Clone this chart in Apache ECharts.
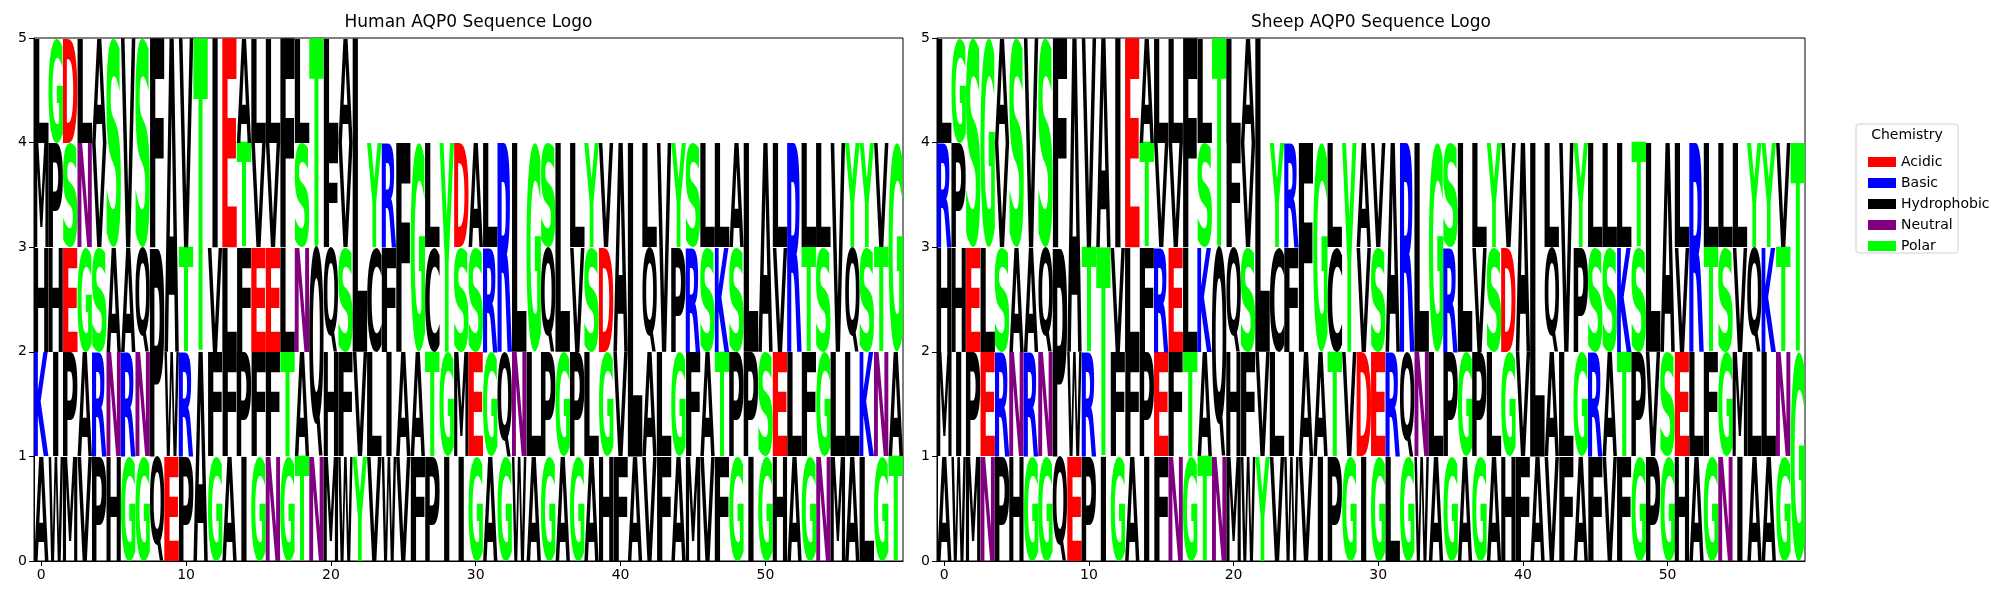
<!DOCTYPE html>
<html>
<head>
<meta charset="utf-8">
<script src="https://cdn.jsdelivr.net/npm/echarts@6/dist/echarts.min.js"></script>
<style>
html, body { margin: 0; padding: 0; background: #fff; }
#main { width: 2000px; height: 600px; }
</style>
</head>
<body>
<div id="main"></div>
<script>
// one string per position, letters bottom -> top, a digit after a letter = its height
const humanStacks = [
  'AKHML', 'WIHPG', 'MPESD', 'VAGNL', 'PRSVA', 'HNAS2', 'GRAV2', 'GNQS2', 'QP2F2', 'EWA3',
  'PRTV2', 'A2T3', 'GFVI2', 'AFLE2', 'IPFTA', 'GFEVL', 'NFEVL', 'GTLF2', 'TANSL', 'NQ2T2',
  'MHQFL', 'WFSVA', 'YVL3', 'VLCY', 'WIFR', 'VAF2', 'FAG2', 'PTCL', 'IGY2', 'IMSD',
  'GESA', 'AGRL', 'GQR2', 'WNL2', 'ALG2', 'GPQS', 'AGL2', 'GPVL', 'ALSY', 'HGDV',
  'FVA2', 'AL3', 'VAQL', 'FLV2', 'AGPY', 'MFRS', 'VASL', 'FTKL', 'GPSA', 'IPL2',
  'GSA2', 'HEVL', 'ALR2', 'GFTL', 'NGSL', 'MLV2', 'ALQY', 'LKSY', 'GNTV', 'TAG2'
]
const sheepStacks = [
  'AMHRL', 'WIHPG', 'MPES2', 'NELG2', 'PRSVA', 'HNAS2', 'GRAV2', 'GNQS2', 'QP2F2', 'EWA3',
  'PRTV2', 'IT2A2', 'GFVI2', 'AFLE2', 'IPFTA', 'FERVL', 'NFEVL', 'GTLF2', 'TAKSL', 'NQ2T2',
  'MHQFL', 'WFSVA', 'YVL3', 'VLCY', 'WIFR', 'VAF2', 'IAG2', 'PTCL', 'GVY2', 'IDVA',
  'GESV', 'LRA2', 'GQR2', 'WNL2', 'ALG2', 'GPRS', 'AGL2', 'GPVL', 'ALSY', 'HGDV',
  'FVA2', 'AL3', 'VAQL', 'FLV2', 'AGPY', 'FRSL', 'VASL', 'FTKL', 'GPST', 'PVL2',
  'GSA2', 'HEVL', 'ALR2', 'GFTL', 'NGSL', 'IMVL', 'ALQY', 'ALKY', 'GNTV', 'G2T2'
]
const panelTitles = ['Human AQP0 Sequence Logo', 'Sheep AQP0 Sequence Logo']
const xTicks = [0, 10, 20, 30, 40, 50]
const yTicks = [0, 1, 2, 3, 4, 5]

// chemistry colour scheme
const chemNames = ['Acidic', 'Basic', 'Hydrophobic', 'Neutral', 'Polar']
const chemColors = ['#ff0000', '#0000ff', '#000000', '#800080', '#00ff00']
const chemLetters = ['DE', 'KR', 'AVLIPFWMHCQ', 'N', 'GSTY']

const FONT_FAMILY = 'DejaVu Sans'
const glyphWidth = 1.0

function colorOf(ch) {
    for (let i = 0; i < chemLetters.length; i++) {
        if (chemLetters[i].indexOf(ch) >= 0) return chemColors[i]
    }
    return '#000'
}

// turn 'QP2F2' into [{ch, y0, y1}, ...]
function buildLetters(stacks) {
    const out = []
    stacks.forEach((s, pos) => {
        let floor = 0
        for (let i = 0; i < s.length; i++) {
            const ch = s[i]
            let h = 1
            if (i + 1 < s.length && /[0-9]/.test(s[i + 1])) {
                h = +s[i + 1]
                i++
            }
            out.push({ pos: pos, ch: ch, y0: floor, y1: floor + h })
            floor += h
        }
    })
    return out
}

// ink box of a glyph, measured with the same font the chart draws with
const measureCtx = document.createElement('canvas').getContext('2d')
measureCtx.font = 'bold 200px ' + FONT_FAMILY
measureCtx.textAlign = 'center'
measureCtx.textBaseline = 'middle'
const inkCache = {}
function inkBox(ch) {
    if (!inkCache[ch]) {
        const m = measureCtx.measureText(ch)
        inkCache[ch] = {
            left: -m.actualBoundingBoxLeft,
            right: m.actualBoundingBoxRight,
            top: -m.actualBoundingBoxAscent,
            bottom: m.actualBoundingBoxDescent
        }
    }
    return inkCache[ch]
}

function letterRenderer(letters) {
    return function (params, api) {
        const it = letters[params.dataIndex]
        const x = api.value(0)
        const tl = api.coord([x - glyphWidth / 2, api.value(2)])
        const br = api.coord([x + glyphWidth / 2, api.value(1)])
        const w = br[0] - tl[0]
        const h = br[1] - tl[1]
        const b = inkBox(it.ch)
        const e = inkBox('E')
        // narrow glyphs are not stretched more than 'E'
        const sx = Math.min(w / (b.right - b.left), w / (e.right - e.left))
        const sy = h / (b.bottom - b.top)
        const left = tl[0] + (w - sx * (b.right - b.left)) / 2
        return {
            type: 'text',
            x: left - sx * b.left,
            y: tl[1] - sy * b.top,
            scaleX: sx,
            scaleY: sy,
            silent: true,
            style: {
                text: it.ch,
                x: 0,
                y: 0,
                fill: colorOf(it.ch),
                fontSize: 200,
                fontWeight: 'bold',
                fontFamily: FONT_FAMILY,
                align: 'center',
                verticalAlign: 'middle'
            }
        }
    }
}

const panels = [humanStacks, sheepStacks].map(buildLetters)
const gridLefts = [34, 937]
const gridWidths = [869, 868]

const chart = echarts.init(document.getElementById('main'), null, { renderer: 'canvas' })

const axisText = { fontSize: 14, color: '#000', fontFamily: FONT_FAMILY }

let option = {
    animation: false,
    backgroundColor: '#fff',
    title: panelTitles.map((t, k) => ({
        text: t,
        left: gridLefts[k] + gridWidths[k] / 2,
        top: 14,
        padding: 0,
        textAlign: 'center',
        textStyle: { fontSize: 17, fontWeight: 'normal', color: '#000', fontFamily: FONT_FAMILY }
    })),
    grid: gridLefts.map((l, k) => ({
        left: l,
        top: 38,
        width: gridWidths[k],
        height: 523,
        show: true,
        borderColor: '#000',
        borderWidth: 1,
        backgroundColor: 'transparent',
        containLabel: false
    })),
    xAxis: [0, 1].map(k => ({
        gridIndex: k,
        type: 'value',
        min: -0.5,
        max: 59.5,
        axisLine: { show: true, onZero: false, lineStyle: { color: '#000', width: 1 } },
        axisTick: { show: true, customValues: xTicks, length: 5, lineStyle: { color: '#000' } },
        axisLabel: Object.assign({ customValues: xTicks, margin: 7 }, axisText),
        splitLine: { show: false }
    })),
    yAxis: [0, 1].map(k => ({
        gridIndex: k,
        type: 'value',
        min: 0,
        max: 5,
        interval: 1,
        axisLine: { show: true, onZero: false, lineStyle: { color: '#000', width: 1 } },
        axisTick: { show: true, customValues: yTicks, length: 5, lineStyle: { color: '#000' } },
        axisLabel: Object.assign({ customValues: yTicks, margin: 7 }, axisText),
        splitLine: { show: false }
    })),
    legend: {
        data: chemNames,
        orient: 'vertical',
        left: 1863,
        top: 150,
        icon: 'rect',
        itemWidth: 28,
        itemHeight: 10,
        itemGap: 7,
        selectedMode: false,
        textStyle: { fontSize: 14, color: '#000', fontFamily: FONT_FAMILY }
    },
    graphic: [
        {
            type: 'rect',
            z: -1,
            shape: { x: 1856, y: 124, width: 102, height: 129, r: 3 },
            style: { fill: '#fff', stroke: '#d0d0d0', lineWidth: 1 }
        },
        {
            type: 'text',
            style: {
                x: 1907, y: 135, text: 'Chemistry', align: 'center', verticalAlign: 'middle',
                fontSize: 14, fill: '#000', fontFamily: FONT_FAMILY
            }
        }
    ],
    series: panels.map((letters, k) => ({
        type: 'custom',
        name: panelTitles[k],
        xAxisIndex: k,
        yAxisIndex: k,
        clip: false,
        encode: { x: 0, y: [1, 2] },
        data: letters.map(d => [d.pos, d.y0, d.y1]),
        renderItem: letterRenderer(letters)
    })).concat(chemNames.map((n, i) => ({
        // empty series only feed the legend
        name: n,
        type: 'line',
        xAxisIndex: 0,
        yAxisIndex: 0,
        data: [],
        color: chemColors[i]
    })))
}
chart.setOption(option)
</script>
</body>
</html>
